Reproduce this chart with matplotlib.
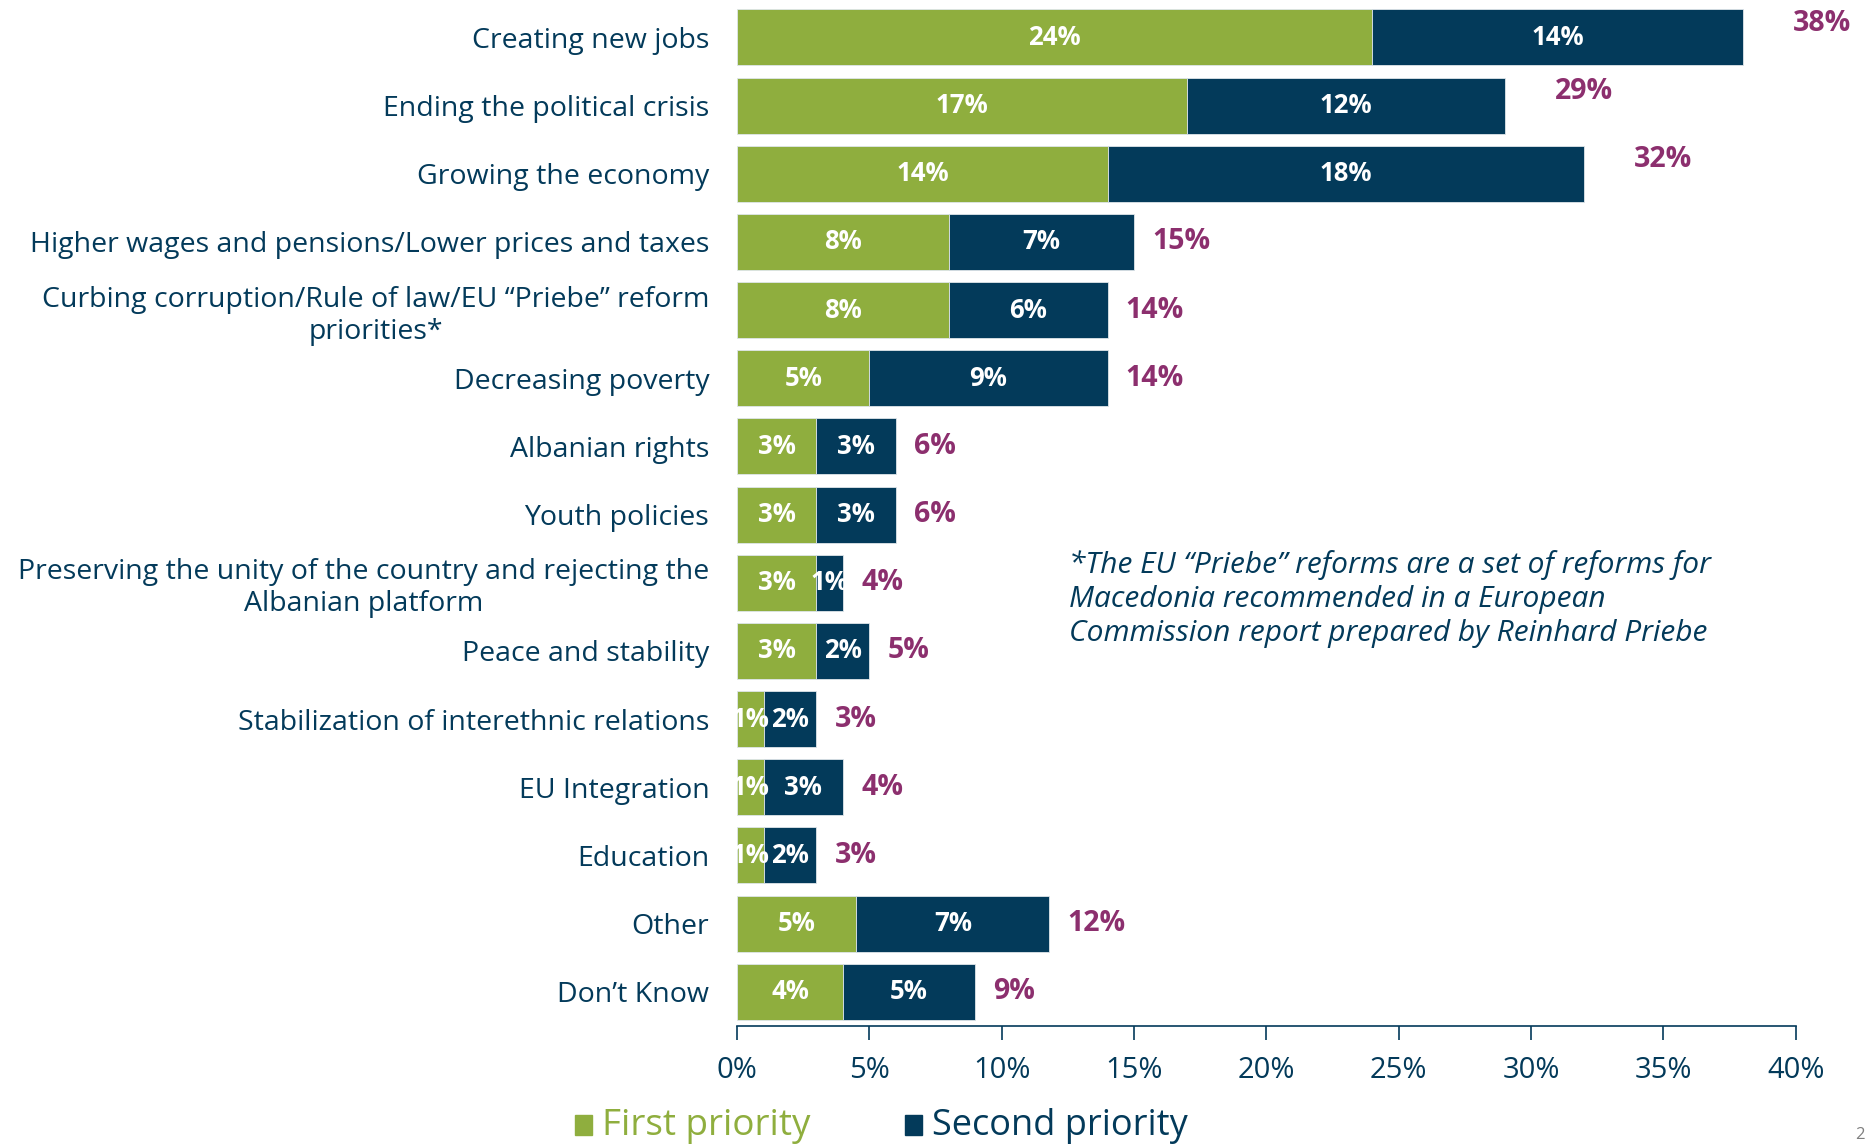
import matplotlib
matplotlib.use("Agg")
import matplotlib.pyplot as plt
import numpy as np

categories = [
    "Creating new jobs",
    "Ending the political crisis",
    "Growing the economy",
    "Higher wages and pensions/Lower prices and taxes",
    "Curbing corruption/Rule of law/EU \u201cPriebe\u201d reform\npriorities*",
    "Decreasing poverty",
    "Albanian rights",
    "Youth policies",
    "Preserving the unity of the country and rejecting the\nAlbanian platform",
    "Peace and stability",
    "Stabilization of interethnic relations",
    "EU Integration",
    "Education",
    "Other",
    "Don\u2019t Know",
]
first_priority = [24, 17, 14, 8, 8, 5, 3, 3, 3, 3, 1, 1, 1, 4.5, 4]
second_priority = [14, 12, 18, 7, 6, 9, 3, 3, 1, 2, 2, 3, 2, 7.3, 5]
first_labels = ["24%", "17%", "14%", "8%", "8%", "5%", "3%", "3%", "3%", "3%", "1%", "1%", "1%", "5%", "4%"]
second_labels = ["14%", "12%", "18%", "7%", "6%", "9%", "3%", "3%", "1%", "2%", "2%", "3%", "2%", "7%", "5%"]
total_labels = ["38%", "29%", "32%", "15%", "14%", "14%", "6%", "6%", "4%", "5%", "3%", "4%", "3%", "12%", "9%"]
xticks = [0, 5, 10, 15, 20, 25, 30, 35, 40]
xtick_labels = ["0%", "5%", "10%", "15%", "20%", "25%", "30%", "35%", "40%"]

GREEN = "#8fae3e"
NAVY = "#033a5a"
MAGENTA = "#8c2f6e"

plt.rcParams["font.family"] = ["Open Sans", "DejaVu Sans"]

fig = plt.figure(figsize=(18.66, 11.44), dpi=100)
ax = fig.add_axes([0.395, 0.1033, 0.5674, 0.8884])

y = np.arange(len(categories))
h = 0.82
ax.barh(y, first_priority, height=h, color=GREEN, edgecolor="#dfe6ea", linewidth=0.6)
ax.barh(y, second_priority, left=first_priority, height=h, color=NAVY, edgecolor="#dfe6ea", linewidth=0.6)

for i in range(len(categories)):
    f = first_priority[i]
    s = second_priority[i]
    ax.text(f / 2, y[i], first_labels[i], ha="center", va="center", color="white",
            fontsize=18.5, fontweight="bold")
    ax.text(f + s / 2, y[i], second_labels[i], ha="center", va="center", color="white",
            fontsize=18.5, fontweight="bold")
    tot = f + s
    if i < 3:
        off = (36, 10)
    else:
        off = (13, 0)
    ax.annotate(total_labels[i], (tot, y[i]), xytext=off, textcoords="offset points",
                ha="left", va="center", color=MAGENTA, fontsize=20.5, fontweight="bold")

ax.set_xlim(0, 40)
ax.set_ylim(len(categories) - 1 + h / 2 + 0.09, -h / 2)
ax.set_yticks(y)
ax.set_yticklabels(categories, fontsize=20.5, color=NAVY, multialignment="center",
                   linespacing=1.2)
ax.tick_params(axis="y", length=0, pad=20)
ax.set_xticks(xticks)
ax.set_xticklabels(xtick_labels, fontsize=21, color=NAVY)
ax.tick_params(axis="x", length=10, width=1.2, color=NAVY, pad=12)
for sp in ["top", "right", "left"]:
    ax.spines[sp].set_visible(False)
ax.spines["bottom"].set_color(NAVY)
ax.spines["bottom"].set_linewidth(1.2)

fig.text(0.573, 0.4765,
         "*The EU \u201cPriebe\u201d reforms are a set of reforms for\nMacedonia recommended in a European\nCommission report prepared by Reinhard Priebe",
         ha="left", va="center", fontsize=21.5, style="italic", color=NAVY, linespacing=1.24)

# legend
fig.patches.append(plt.Rectangle((0.308, 0.0079), 0.0092, 0.0174, transform=fig.transFigure, color=GREEN))
fig.text(0.3227, 0.0079, "First priority", ha="left", va="baseline", fontsize=26.5, color=GREEN)
fig.patches.append(plt.Rectangle((0.4848, 0.0079), 0.0092, 0.0174, transform=fig.transFigure, color=NAVY))
fig.text(0.4994, 0.0079, "Second priority", ha="left", va="baseline", fontsize=26, color=NAVY)

# page number at the corner
fig.text(0.999, 0.001, "2", ha="right", va="bottom", fontsize=12, color="#7f7f7f")

fig.savefig("out.png", dpi=100)
